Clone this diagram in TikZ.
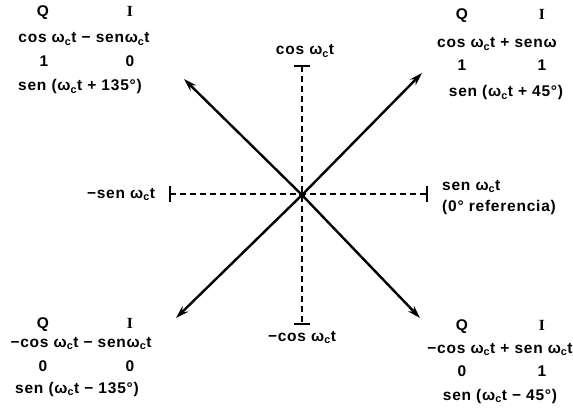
\documentclass[tikz,border=0pt]{standalone}
\usepackage{fontspec}
\setmainfont{Liberation Sans}[LetterSpace=5]
\newfontfamily\serifI{Liberation Serif}
\usetikzlibrary{arrows.meta}
\newcommand{\wc}{ω\textsubscript{c}}
\begin{document}
\begin{tikzpicture}[x=1pt,y=-1pt,
  lbl/.style={font=\bfseries\fontsize{15.5}{17}\selectfont, inner sep=0pt, anchor=base},
  ilbl/.style={lbl, font=\serifI\bfseries\fontsize{15.5}{17}\selectfont},
  vec/.style={line width=2.4pt, -{Stealth[length=13pt,width=8pt]}},
  axis/.style={line width=1.6pt, dash pattern=on 6pt off 4pt},
  bar/.style={line width=1.8pt}]
\useasboundingbox (0,0) rectangle (573,409);
\coordinate (o) at (302,195);
% axes
\coordinate (top) at (302,66);
\coordinate (bot) at (302,324);
\coordinate (lft) at (170,194);
\coordinate (rgt) at (427,194);
\draw[axis] (top) -- (bot);
\draw[axis] (lft) -- (rgt);
\draw[bar] ([xshift=-8pt]top) -- ([xshift=8pt]top);
\draw[bar] ([xshift=-8pt]bot) -- ([xshift=8pt]bot);
\draw[bar] ([yshift=-8pt]lft) -- ([yshift=8pt]lft);
\draw[bar] ([yshift=-8pt]rgt) -- ([yshift=8pt]rgt);
% vectors
\coordinate (ul) at (184,79);
\coordinate (ur) at (422,73);
\coordinate (dl) at (176,318);
\coordinate (dr) at (420,318);
\draw[vec] (o) -- (ul);
\draw[vec] (o) -- (ur);
\draw[vec] (o) -- (dl);
\draw[vec] (o) -- (dr);
\fill (o) circle (3pt);
% axis labels
\node[lbl] (lcos) at (305,55) {cos \wc t};
\node[lbl] (lmcos) at (302,341) {−cos \wc t};
\node[lbl] (lmsen) at (121,198) {−sen \wc t};
\node[lbl, anchor=base west] (lsen) at (442,190) {sen \wc t};
\node[lbl, anchor=base west] (lref) at (442,211) {(0° referencia)};
% top-left
\node[lbl] (q1) at (43,17) {Q};
\node[ilbl] (i1) at (130,17) {I};
\node[lbl] (e1) at (84,43) {cos \wc t − sen\wc t};
\node[lbl] (n1a) at (44,67) {1};
\node[lbl] (n1b) at (130,67) {0};
\node[lbl] (s1) at (80,91) {sen (\wc t + 135°)};
% top-right
\node[lbl] (q2) at (462,20) {Q};
\node[ilbl] (i2) at (542,20) {I};
\node[lbl, anchor=base west] (e2) at (437,48) {cos \wc t + senω};
\node[lbl] (n2a) at (462,71) {1};
\node[lbl] (n2b) at (542,71) {1};
\node[lbl] (s2) at (506,97) {sen (\wc t + 45°)};
% bottom-left
\node[lbl] (q3) at (43,328) {Q};
\node[ilbl] (i3) at (130,328) {I};
\node[lbl] (e3) at (81,347) {−cos \wc t − sen\wc t};
\node[lbl] (n3a) at (43,371) {0};
\node[lbl] (n3b) at (130,371) {0};
\node[lbl] (s3) at (77,393) {sen (\wc t − 135°)};
% bottom-right
\node[lbl] (q4) at (462,330) {Q};
\node[ilbl] (i4) at (542,330) {I};
\node[lbl] (e4) at (500,353) {−cos \wc t + sen \wc t};
\node[lbl] (n4a) at (462,376) {0};
\node[lbl] (n4b) at (542,376) {1};
\node[lbl] (s4) at (500,400) {sen (\wc t − 45°)};
\end{tikzpicture}
\end{document}
